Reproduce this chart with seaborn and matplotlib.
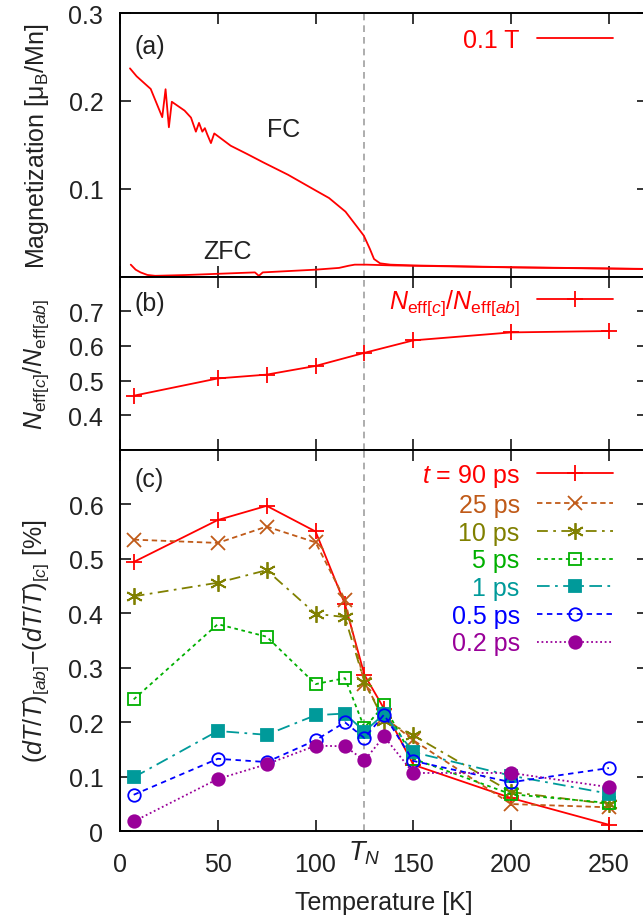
import matplotlib
matplotlib.use("Agg")
import matplotlib.pyplot as plt
import seaborn as sns
import numpy as np

# ---------------- data ----------------
# Panel (a): magnetization at 0.1 T
fc_T = [5.1, 8.5, 15.7, 21.6, 23.3, 25.0, 26.5, 33.0, 36.3, 38.8, 40.4, 42.1, 43.4, 44.6,
        46.5, 48.2, 56.6, 65.0, 73.3, 85.9, 100.2, 106.9, 115.3, 121.5, 124.7, 127.8,
        129.9, 133.0, 138.3, 150.0, 200.0, 268.0]
fc_M = [0.237, 0.228, 0.2136, 0.1815, 0.2133, 0.170, 0.199, 0.189, 0.181, 0.165, 0.175,
        0.165, 0.169, 0.162, 0.152, 0.163, 0.149, 0.1396, 0.130, 0.116, 0.0979, 0.0895,
        0.074, 0.056, 0.0466, 0.0315, 0.0201, 0.0152, 0.0137, 0.0128, 0.0108, 0.0089]
zfc_T = [5.5, 8.0, 10.5, 14.0, 18.0, 33.5, 69.0, 71.0, 73.0, 100.0, 112.0, 117.0, 120.0,
         126.0, 140.0, 200.0, 268.0]
zfc_M = [0.0137, 0.008, 0.0049, 0.002, 0.001, 0.0019, 0.0049, 0.001, 0.0049, 0.008,
         0.0100, 0.0125, 0.0137, 0.0137, 0.0128, 0.0106, 0.0087]

# Panel (b): N_eff ratio
ratio_T = [7, 50, 75, 100, 125, 150, 200, 250]
ratio_N = [0.456, 0.506, 0.517, 0.542, 0.580, 0.616, 0.639, 0.643]

# Panel (c): anisotropy of dT/T
delay_T = [7, 50, 75, 100, 115, 125, 135, 150, 200, 250]
t90 = [0.494, 0.571, 0.597, 0.550, 0.417, 0.287, 0.225, 0.122, 0.061, 0.012]
t25 = [0.535, 0.529, 0.559, 0.530, 0.425, 0.271, 0.210, 0.167, 0.050, 0.044]
t10 = [0.431, 0.456, 0.479, 0.399, 0.393, 0.274, 0.203, 0.176, 0.072, 0.050]
t5 = [0.242, 0.380, 0.357, 0.270, 0.281, 0.190, 0.231, 0.133, 0.068, 0.052]
t1 = [0.099, 0.184, 0.177, 0.213, 0.216, 0.183, 0.215, 0.145, 0.102, 0.069]
t05 = [0.067, 0.133, 0.127, 0.167, 0.200, 0.171, 0.214, 0.129, 0.090, 0.116]
t02 = [0.018, 0.096, 0.123, 0.157, 0.156, 0.130, 0.174, 0.107, 0.107, 0.081]
delay_labels = ["$t$ = 90 ps", "25 ps", "10 ps", "5 ps", "1 ps", "0.5 ps", "0.2 ps"]

x_ticks = [0, 50, 100, 150, 200, 250]
T_N = 125

# ---------------- style ----------------
sns.set_theme(style="white")
plt.rcParams["font.family"] = ["Liberation Sans", "DejaVu Sans"]
plt.rcParams["mathtext.fontset"] = "custom"
plt.rcParams["mathtext.rm"] = "Liberation Sans"
plt.rcParams["mathtext.it"] = "Liberation Sans:italic"
plt.rcParams["mathtext.bf"] = "Liberation Sans:bold"

TXT = "#222222"
FS_TICK = 18
FS = 18

W, H = 643, 920
fig = plt.figure(figsize=(W / 100, H / 100), dpi=100)

left_px, right_px = 120, 648
def make_ax(top_px, bot_px):
    return fig.add_axes([left_px / W, 1 - bot_px / H, (right_px - left_px) / W, (bot_px - top_px) / H])

ax_a = make_ax(14, 277.7)
ax_b = make_ax(277.7, 450.7)
ax_c = make_ax(450.7, 832.3)

for ax in (ax_a, ax_b, ax_c):
    ax.set_xlim(0, 270)
    ax.set_xticks(x_ticks)
    for s in ax.spines.values():
        s.set_color("black")
        s.set_linewidth(1.4)
    ax.tick_params(direction="in", length=7.7, width=1.1, top=True, right=True,
                   bottom=True, left=True, labelsize=FS_TICK, colors="black",
                   labelcolor=TXT, pad=12)
    ax.tick_params(axis="x", pad=15)
    ax.axvline(T_N, color="#a0a0a0", lw=1.2, ls=(0, (4, 3)), zorder=0)
    ax.grid(False)

ax_a.tick_params(labelbottom=False)
ax_b.tick_params(labelbottom=False)

# ---------------- panel (a) ----------------
sns.lineplot(x=fc_T, y=fc_M, ax=ax_a, color="#ff0000", lw=1.3, label="0.1 T")
sns.lineplot(x=zfc_T, y=zfc_M, ax=ax_a, color="#ff0000", lw=1.3)
ax_a.set_ylim(0, 0.3)
ax_a.set_yticks([0.1, 0.2, 0.3])
ax_a.set_yticklabels(["0.1", "0.2", "0.3"])
ax_a.text(83.5, 0.168, "FC", fontsize=FS, color=TXT, ha="center", va="center")
ax_a.text(54.8, 0.0295, "ZFC", fontsize=FS, color=TXT, ha="center", va="center")
ax_a.text(15 / 528, 1 - 33 / 263.7, "(a)", transform=ax_a.transAxes, fontsize=FS,
          color=TXT, ha="left", va="center")
ax_a.set_ylabel("Magnetization [μ$_\\mathrm{B}$/Mn]", fontsize=FS, color=TXT)
h, l = ax_a.get_legend_handles_labels()
ax_a.legend(h[:1], l[:1], loc="upper right", bbox_to_anchor=(613 / W, 1 - 29 / H),
            bbox_transform=fig.transFigure, frameon=False, markerfirst=False,
            fontsize=FS, labelcolor=["#ff0000"], handlelength=3.05,
            handletextpad=0.68, borderpad=0, borderaxespad=0)

# ---------------- panel (b) ----------------
sns.lineplot(x=ratio_T, y=ratio_N, ax=ax_b, color="#ff0000", lw=1.3, marker="+",
             markersize=11, markeredgewidth=1.3, markeredgecolor="#ff0000",
             label=r"$N_{\mathrm{eff}[c]}/N_{\mathrm{eff}[ab]}$")
ax_b.set_ylim(0.3, 0.8)
ax_b.set_yticks([0.4, 0.5, 0.6, 0.7])
ax_b.set_yticklabels(["0.4", "0.5", "0.6", "0.7"])
ax_b.text(15 / 528, 1 - 26 / 173, "(b)", transform=ax_b.transAxes, fontsize=FS,
          color=TXT, ha="left", va="center")
ax_b.set_ylabel(r"$N_{\mathrm{eff}[c]}/N_{\mathrm{eff}[ab]}$", fontsize=FS, color=TXT)
ax_b.legend(loc="upper right", bbox_to_anchor=(613 / W, 1 - 288 / H),
            bbox_transform=fig.transFigure, frameon=False, markerfirst=False,
            fontsize=FS, labelcolor=["#ff0000"], handlelength=3.05,
            handletextpad=0.68, borderpad=0, borderaxespad=0)

# ---------------- panel (c) ----------------
series = [t90, t25, t10, t5, t1, t05, t02]
colors = ["#ff0000", "#c05a18", "#808000", "#00b000", "#009a9a", "#0000ff", "#990099"]
styles = ["-", (0, (3, 2)), (0, (6, 3, 1.5, 3)), (0, (2, 2)), (0, (7, 3, 1.5, 3)),
          (0, (3, 2.5)), (0, (1, 1.5))]
markers = ["+", "x", (6, 2, 0), "s", "s", "o", "o"]
mfcs = ["#ff0000", "#c05a18", "#808000", "none", "#009a9a", "none", "#990099"]
msizes = [11, 10, 12, 8, 8, 9, 9]

for vals, col, ls, mk, mfc, ms, lab in zip(series, colors, styles, markers, mfcs, msizes,
                                          delay_labels):
    sns.lineplot(x=delay_T, y=vals, ax=ax_c, color=col, lw=1.3, linestyle=ls, marker=mk,
                 markersize=ms, markerfacecolor=mfc, markeredgecolor=col,
                 markeredgewidth=1.3, label=lab)

ax_c.set_ylim(0, 0.7)
ax_c.set_yticks([0, 0.1, 0.2, 0.3, 0.4, 0.5, 0.6])
ax_c.set_yticklabels(["0", "0.1", "0.2", "0.3", "0.4", "0.5", "0.6"])
ax_c.set_xticklabels([str(v) for v in x_ticks])
ax_c.text(15 / 528, 1 - 29 / 381.6, "(c)", transform=ax_c.transAxes, fontsize=FS,
          color=TXT, ha="left", va="center")
ax_c.set_ylabel(r"$(dT/T)_{[ab]}{-}(dT/T)_{[c]}$ [%]", fontsize=FS, color=TXT)
ax_c.set_xlabel("Temperature [K]", fontsize=FS, color=TXT, labelpad=10)
ax_c.annotate("$T_N$", xy=(T_N, 0), xycoords=("data", "axes fraction"),
              xytext=(0, -20), textcoords="offset points", ha="center", va="baseline",
              fontsize=19.5, color=TXT)
ax_c.legend(loc="upper right", bbox_to_anchor=(613 / W, 1 - 463 / H),
            bbox_transform=fig.transFigure, frameon=False, markerfirst=False,
            fontsize=FS, labelcolor=colors, handlelength=3.05,
            handletextpad=0.68, borderpad=0, borderaxespad=0, labelspacing=0.15)

for ax in (ax_a, ax_b, ax_c):
    ax.yaxis.set_label_coords(-0.13, 0.5)

fig.savefig("out.png", dpi=100)
